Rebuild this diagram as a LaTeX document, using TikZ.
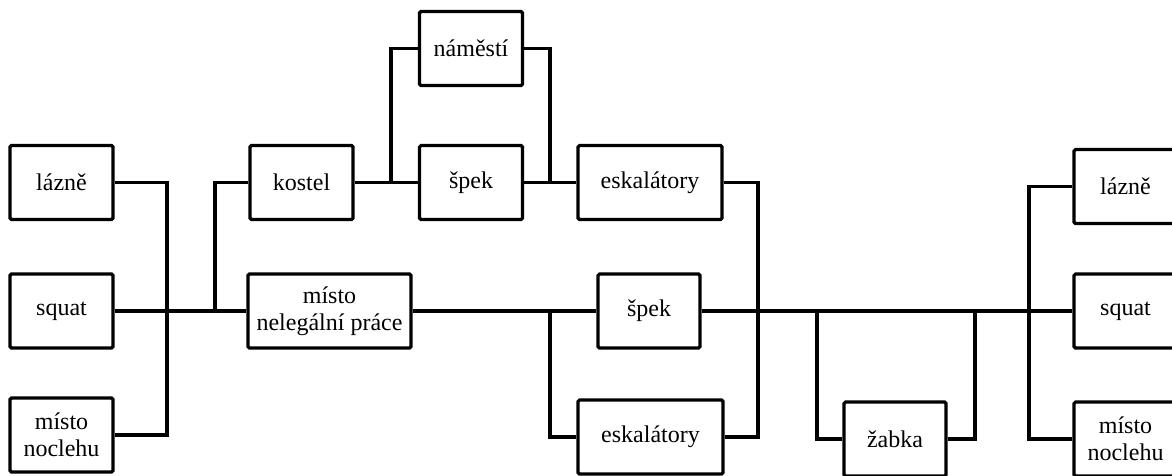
\documentclass[tikz,border=0pt]{standalone}
\usepackage{fontspec}
\setmainfont{Liberation Serif}
\begin{document}
\begin{tikzpicture}[x=1pt,y=-1pt,
  box/.style={draw, line width=3.2pt, rounded corners=1.5pt, minimum width=103pt, minimum height=74pt, inner sep=0pt, align=center, font=\fontsize{24}{27}\selectfont},
  wire/.style={line width=3.2pt}]
\useasboundingbox (0,0) rectangle (1172,475);
% nodes
\node[box] (Llazne) at (61.5,182.5) {lázně};
\node[box] (Lsquat) at (61.5,311) {squat};
\node[box] (Lnoc) at (61.5,435) {místo\\noclehu};
\node[box] (kostel) at (301.5,182.5) {kostel};
\node[box, minimum width=163pt] (mnp) at (329.5,311) {místo\\nelegální práce};
\node[box] (namesti) at (471,48.5) {náměstí};
\node[box] (spekA) at (471,182.5) {špek};
\node[box, minimum width=144pt] (eskA) at (650,182.5) {eskalátory};
\node[box, minimum width=102pt] (spekB) at (649,311) {špek};
\node[box, minimum width=145pt] (eskB) at (650.5,437) {eskalátory};
\node[box, minimum width=102pt] (zabka) at (895,439) {žabka};
\node[box] (Rlazne) at (1125.5,186.5) {lázně};
\node[box] (Rsquat) at (1125.5,311) {squat};
\node[box] (Rnoc) at (1125.5,439) {místo\\noclehu};
% junctions
\coordinate (b1) at (167,311);
\coordinate (j1) at (215,311);
\coordinate (j2) at (391,182.5);
\coordinate (j3) at (550,182.5);
\coordinate (j4) at (758,311);
\coordinate (j5) at (550,311);
\coordinate (j6) at (817,311);
\coordinate (j7) at (975,311);
\coordinate (j8) at (1029,311);
% connectors
\draw[wire] (Llazne.east) -| (b1) |- (Lnoc.east);
\draw[wire] (Lsquat.east) -- (mnp.west);
\draw[wire] (kostel.west) -| (j1);
\draw[wire] (kostel.east) -- (spekA.west);
\draw[wire] (j2) |- (namesti.west);
\draw[wire] (namesti.east) -| (j3);
\draw[wire] (spekA.east) -- (eskA.west);
\draw[wire] (eskA.east) -| (j4) |- (eskB.east);
\draw[wire] (mnp.east) -- (spekB.west);
\draw[wire] (j5) |- (eskB.west);
\draw[wire] (spekB.east) -- (Rsquat.west);
\draw[wire] (j6) |- (zabka.west);
\draw[wire] (zabka.east) -| (j7);
\draw[wire] (Rlazne.west) -| (j8) |- (Rnoc.west);
\end{tikzpicture}
\end{document}
